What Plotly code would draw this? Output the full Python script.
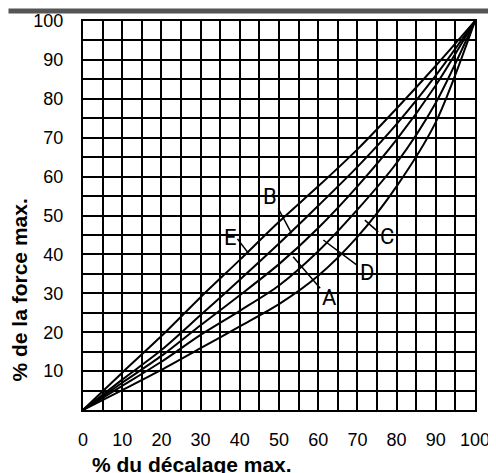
import plotly.graph_objects as go

# ---- data ----
x_pct = [0, 10, 20, 30, 40, 50, 60, 70, 80, 90, 100]
curve_E = [0, 9.6, 19.0, 29.0, 38.6, 48.4, 57.5, 67.0, 77.5, 88.5, 100]
curve_B = [0, 7.8, 15.4, 24.4, 33.5, 42.8, 52.5, 62.5, 73.5, 86.0, 100]
curve_A = [0, 7.0, 13.9, 21.8, 29.5, 37.5, 46.8, 57.5, 69.5, 83.5, 100]
curve_D = [0, 6.2, 12.4, 19.3, 25.5, 32.0, 40.8, 51.5, 63.5, 79.0, 100]
curve_C = [0, 5.1, 10.3, 15.9, 21.5, 27.2, 34.5, 44.5, 57.5, 74.0, 100]

x_tickvals = list(range(0, 101, 5))
x_ticktext = ["0", "", "10", "", "20", "", "30", "", "40", "", "50", "",
              "60", "", "70", "", "80", "", "90", "", "100"]
y_tickvals = list(range(0, 101, 5))
y_ticktext = ["", "", "10", "", "20", "", "30", "", "40", "", "50", "",
              "60", "", "70", "", "80", "", "90", "", "100"]

x_title = "% du décalage max."
y_title = "% de la force max."

# label: (text, label x, label y, leader start x, y, leader end x, y)
labels = [
    ("E", 37.5, 44.3, 39.4, 44.0, 42.2, 40.3),
    ("B", 47.7, 54.8, 49.8, 51.8, 53.2, 45.4),
    ("A", 62.8, 28.9, 60.5, 31.3, 53.6, 39.4),
    ("D", 72.4, 35.3, 69.8, 37.3, 61.3, 43.7),
    ("C", 77.5, 44.5, 75.3, 45.8, 71.9, 48.8),
]

# page geometry: the figure div sits 8 px in from the page's top-left (body margin)
OFF = 8
PAGE_W, PAGE_H = 496, 473
PLOT_L, PLOT_R, PLOT_T, PLOT_B = 83, 475, 21, 410   # plot area in page pixels
W, H = PAGE_W - OFF, PAGE_H - OFF
L, T = PLOT_L - OFF, PLOT_T - OFF
PW, PH = PLOT_R - PLOT_L, PLOT_B - PLOT_T
R, B = W - L - PW, H - T - PH


def px_x(page_x):
    return (page_x - PLOT_L) / PW


def px_y(page_y):
    return (PLOT_B - page_y) / PH


fig = go.Figure()
for name, ys in [("E", curve_E), ("B", curve_B), ("A", curve_A),
                 ("D", curve_D), ("C", curve_C)]:
    fig.add_trace(go.Scatter(
        x=x_pct, y=ys, mode="lines", name=name,
        line=dict(color="black", width=2, shape="spline", smoothing=0.8),
        showlegend=False, hoverinfo="skip"))

label_font = dict(family="Roboto, sans-serif", size=22, color="black")
for t, lx, ly, sx, sy, ex, ey in labels:
    fig.add_annotation(x=lx, y=ly, text=t, showarrow=False, font=label_font,
                       xref="x", yref="y")
    fig.add_shape(type="line", x0=sx, y0=sy, x1=ex, y1=ey, xref="x", yref="y",
                  line=dict(color="black", width=1.5))

# top header rule (as high as the figure allows)
fig.add_annotation(xref="paper", yref="paper", x=px_x(OFF), y=px_y(OFF),
                   xanchor="left", yanchor="top", text=" ", showarrow=False,
                   width=W, height=4, bgcolor="#555555", borderpad=0,
                   font=dict(size=2))

tick_font = dict(family="Liberation Sans, Arial, sans-serif", size=18, color="black")
title_font = dict(family="Liberation Sans, Arial, sans-serif", size=21, color="black")

fig.add_annotation(xref="paper", yref="paper", x=px_x(90), y=px_y(451),
                   text="<b>" + x_title + "</b>", showarrow=False, font=title_font,
                   xanchor="left", yanchor="top")
fig.add_annotation(xref="paper", yref="paper", x=px_x(19), y=px_y(384),
                   text="<b>" + y_title + "</b>", showarrow=False, font=title_font,
                   textangle=-90, xanchor="center", yanchor="bottom")

axis_common = dict(showgrid=True, gridcolor="black", gridwidth=2,
                   showline=True, linecolor="black", linewidth=2, mirror=True,
                   ticks="", zeroline=False, tickfont=tick_font, automargin=False,
                   tickmode="array", fixedrange=True)
fig.update_xaxes(range=[0, 100], tickvals=x_tickvals, ticktext=x_ticktext,
                 ticklabelstandoff=12, **axis_common)
fig.update_yaxes(range=[0, 100], tickvals=y_tickvals, ticktext=y_ticktext,
                 ticklabelstandoff=14, **axis_common)

fig.update_layout(width=W, height=H,
                  margin=dict(l=L, r=R, t=T, b=B, autoexpand=False),
                  plot_bgcolor="white", paper_bgcolor="white")

fig.write_html("out.html")
